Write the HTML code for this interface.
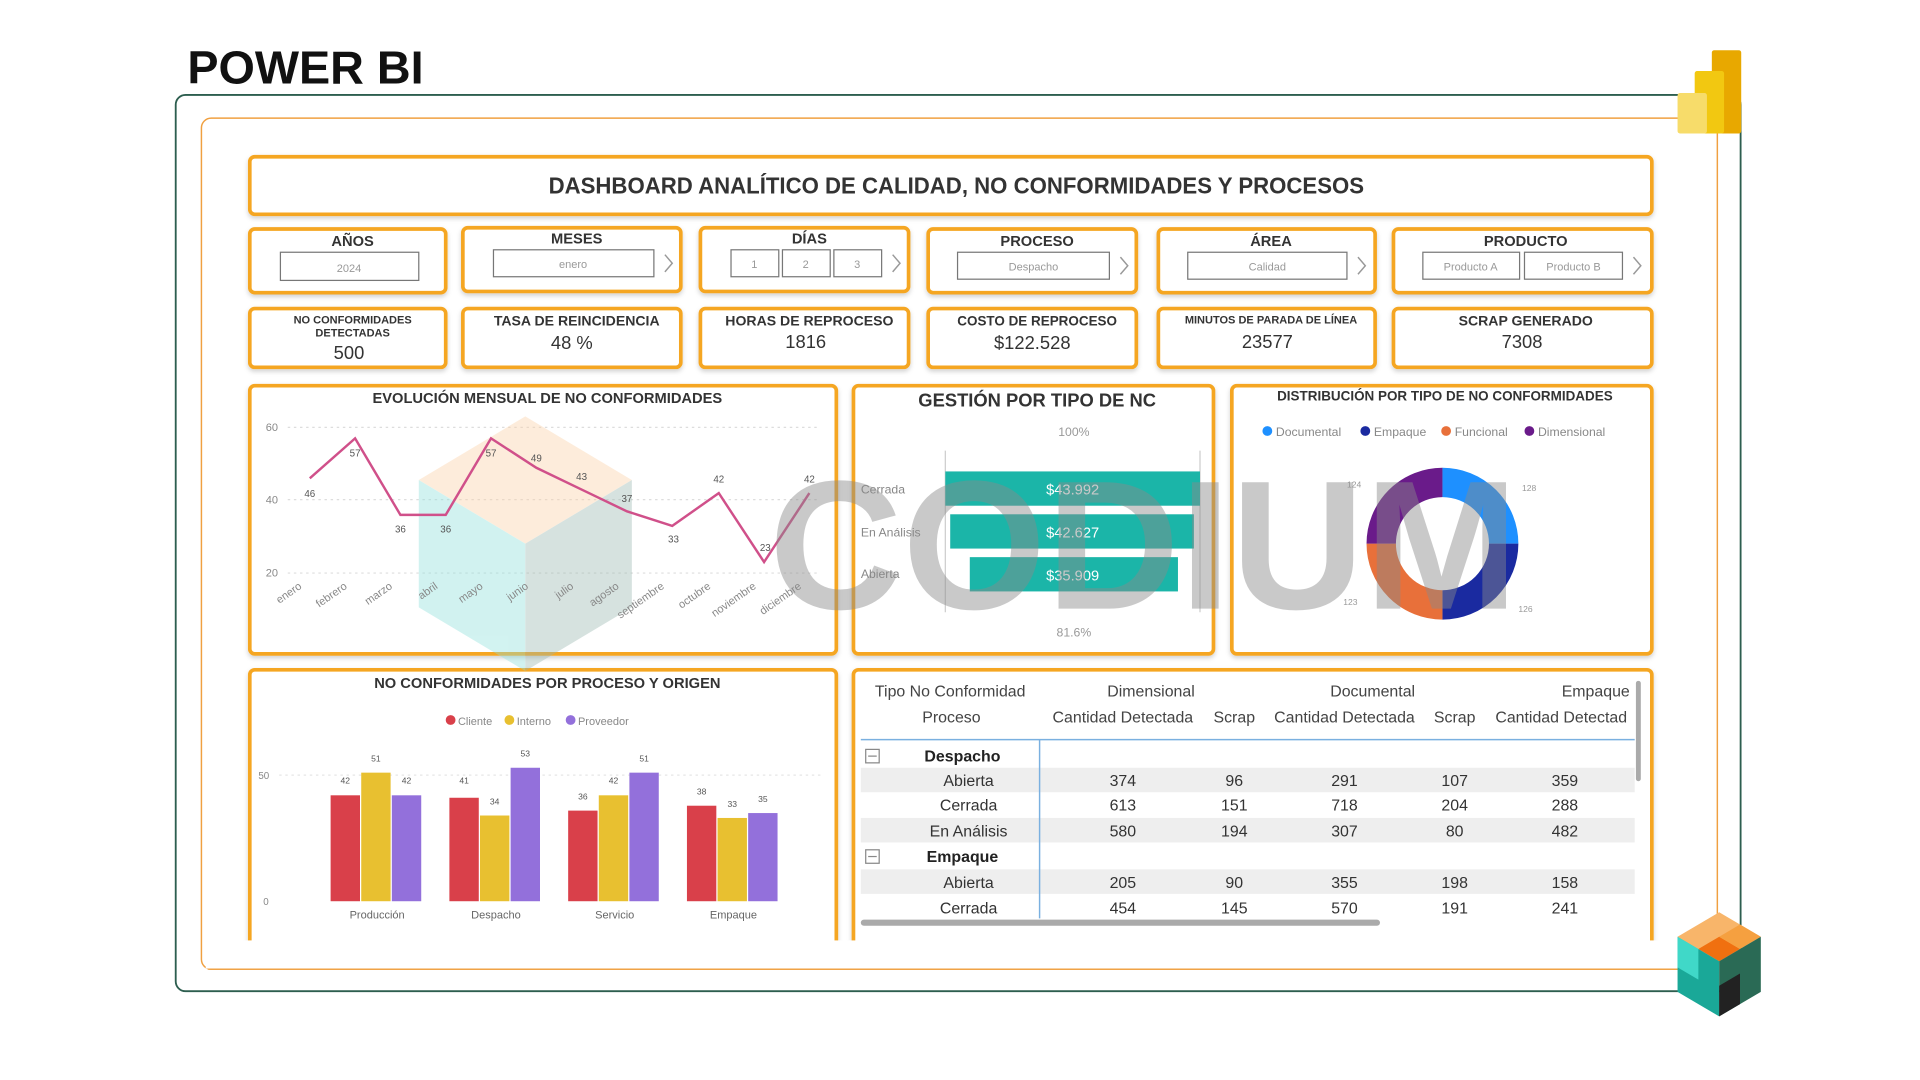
<!DOCTYPE html>
<html><head><meta charset="utf-8"><style>
html,body{margin:0;padding:0;background:#fff;}
svg{display:block}
text{font-family:"Liberation Sans",sans-serif;}
</style></head><body>
<svg width="1920" height="1080" viewBox="0 0 1568 882" xmlns="http://www.w3.org/2000/svg">
<defs>
<filter id="sh" x="-5%" y="-10%" width="110%" height="130%"><feDropShadow dx="0" dy="2" stdDeviation="2" flood-color="#000" flood-opacity="0.18"/></filter>
</defs>
<rect width="1568" height="882" fill="#fff"/>
<text x="153" y="68" font-size="38" font-weight="bold" fill="#111" textLength="193" lengthAdjust="spacingAndGlyphs">POWER BI</text>
<rect x="143.5" y="77.5" width="1278" height="732" rx="8" fill="none" stroke="#2d5e4f" stroke-width="1.5"/>
<rect x="164.5" y="96.5" width="1238" height="695" rx="8" fill="none" stroke="#f0a040" stroke-width="1.2"/>
<!-- power bi logo -->
<rect x="1398" y="41" width="24" height="68" rx="2" fill="#e8a800"/>
<rect x="1384" y="58" width="24" height="51" rx="2" fill="#f2c811"/>
<rect x="1370" y="76" width="24" height="33" rx="2" fill="#f7dc6a"/>

<!-- title -->
<g filter="url(#sh)"><rect x="204" y="128" width="1145" height="47" rx="4" fill="#fff" stroke="#f5a623" stroke-width="3"/></g>
<text x="781" y="158" font-size="19" font-weight="bold" fill="#333" text-anchor="middle" textLength="666" lengthAdjust="spacingAndGlyphs">DASHBOARD ANALÍTICO DE CALIDAD, NO CONFORMIDADES Y PROCESOS</text>

<!-- filter boxes -->
<g filter="url(#sh)" fill="#fff" stroke="#f5a623" stroke-width="3">
<rect x="204" y="187" width="160" height="52" rx="4"/>
<rect x="378" y="186" width="178" height="52" rx="4"/>
<rect x="572" y="186" width="170" height="52" rx="4"/>
<rect x="758" y="187" width="170" height="52" rx="4"/>
<rect x="946" y="187" width="177" height="52" rx="4"/>
<rect x="1138" y="187" width="211" height="52" rx="4"/>
<rect x="204" y="252" width="160" height="48" rx="4"/>
<rect x="378" y="252" width="178" height="48" rx="4"/>
<rect x="572" y="252" width="170" height="48" rx="4"/>
<rect x="758" y="252" width="170" height="48" rx="4"/>
<rect x="946" y="252" width="177" height="48" rx="4"/>
<rect x="1138" y="252" width="211" height="48" rx="4"/>
<rect x="204" y="315" width="479" height="219" rx="4"/>
<rect x="697" y="315" width="294" height="219" rx="4"/>
<rect x="1006" y="315" width="343" height="219" rx="4"/>
<rect x="204" y="547" width="479" height="230" rx="4"/>
<rect x="697" y="547" width="652" height="230" rx="4"/>
</g>
<rect x="168" y="768" width="1228" height="23" fill="#fff"/>
<line x1="170" y1="791.5" x2="1397" y2="791.5" stroke="#f0a040" stroke-width="1.2"/>

<!-- cube -->
<polygon points="1404,745 1438,765 1404,785 1370,765" fill="#f8b56a"/>
<polygon points="1404,765 1421,775 1404,785 1387,775" fill="#f07010"/>
<polygon points="1421,755 1438,765 1421,775 1404,765" fill="#f5a040"/>
<polygon points="1370,765 1404,785 1404,830 1370,810" fill="#1aa898"/>
<polygon points="1370,765 1387,775 1387,800 1370,790" fill="#40d8c8"/>
<polygon points="1404,785 1438,765 1438,810 1404,830" fill="#2a6a55"/>
<polygon points="1404,805 1421,795 1421,820 1404,830" fill="#222"/>

<g font-size="12" font-weight="bold" fill="#333" text-anchor="middle">
<text x="288" y="201">AÑOS</text><text x="471" y="199">MESES</text><text x="661" y="199">DÍAS</text>
<text x="847" y="201">PROCESO</text><text x="1038" y="201">ÁREA</text><text x="1246" y="201">PRODUCTO</text>
</g>
<g fill="#fff" stroke="#777" stroke-width="1">
<rect x="229" y="206" width="113" height="23"/><rect x="403" y="204" width="131" height="22"/>
<rect x="597" y="204" width="39" height="22"/><rect x="639" y="204" width="39" height="22"/><rect x="681" y="204" width="39" height="22"/>
<rect x="782" y="206" width="124" height="22"/><rect x="970" y="206" width="130" height="22"/>
<rect x="1162" y="206" width="79" height="22"/><rect x="1245" y="206" width="80" height="22"/>
</g>
<g font-size="9" fill="#999" text-anchor="middle">
<text x="285" y="222">2024</text><text x="468" y="219">enero</text>
<text x="616" y="219">1</text><text x="658" y="219">2</text><text x="700" y="219">3</text>
<text x="844" y="221">Despacho</text><text x="1035" y="221">Calidad</text>
<text x="1201" y="221">Producto A</text><text x="1285" y="221">Producto B</text>
</g>
<g fill="none" stroke="#999" stroke-width="1.2">
<polyline points="543,208 549,215 543,222"/><polyline points="729,208 735,215 729,222"/>
<polyline points="915,210 921,217 915,224"/><polyline points="1109,210 1115,217 1109,224"/><polyline points="1334,210 1340,217 1334,224"/>
</g>
<!-- KPIs -->
<g font-weight="bold" fill="#333" text-anchor="middle">
<text x="288" y="264" font-size="9">NO CONFORMIDADES</text><text x="288" y="275" font-size="9">DETECTADAS</text>
<text x="471" y="266" font-size="11.5">TASA DE REINCIDENCIA</text>
<text x="661" y="266" font-size="11.5">HORAS DE REPROCESO</text>
<text x="847" y="266" font-size="11">COSTO DE REPROCESO</text>
<text x="1038" y="264" font-size="9">MINUTOS DE PARADA DE LÍNEA</text>
<text x="1246" y="266" font-size="11.5">SCRAP GENERADO</text>
</g>
<g font-size="15" fill="#333" text-anchor="middle">
<text x="285" y="293">500</text><text x="467" y="285">48 %</text><text x="658" y="284">1816</text>
<text x="843" y="285">$122.528</text><text x="1035" y="284">23577</text><text x="1243" y="284">7308</text>
</g>

<!-- line chart -->
<text x="447" y="329" font-size="12" font-weight="bold" fill="#333" text-anchor="middle">EVOLUCIÓN MENSUAL DE NO CONFORMIDADES</text>
<g stroke="#ddd" stroke-dasharray="2,3"><line x1="235" y1="349" x2="670" y2="349"/><line x1="235" y1="408" x2="670" y2="408"/><line x1="235" y1="468" x2="670" y2="468"/></g>
<g font-size="9" fill="#888"><text x="217" y="352">60</text><text x="217" y="411">40</text><text x="217" y="471">20</text></g>
<g opacity="0.4">
<polygon points="429,340 516,392 429,444 342,392" fill="#fcd2a8"/>
<polygon points="342,392 429,444 429,548 342,496" fill="#8fe0dc"/>
<polygon points="429,444 516,392 516,496 429,548" fill="#9ab8b0"/>
</g>
<polyline fill="none" stroke="#d0508a" stroke-width="2" points="253,390.6 290,358 327,420.5 364,420.5 401,358 438,382 475,399.8 512,417.6 549,429.5 587,402.7 624,459 661,402.7"/>
<g font-size="8" fill="#555" text-anchor="middle">
<text x="253" y="406">46</text><text x="290" y="373">57</text><text x="327" y="435">36</text><text x="364" y="435">36</text>
<text x="401" y="373">57</text><text x="438" y="377">49</text><text x="475" y="392">43</text><text x="512" y="410">37</text>
<text x="550" y="443">33</text><text x="587" y="394">42</text><text x="625" y="450">23</text><text x="661" y="394">42</text>
</g>
<g font-size="9" fill="#888" text-anchor="end">
<text transform="translate(247,480) rotate(-35)">enero</text><text transform="translate(284,480) rotate(-35)">febrero</text>
<text transform="translate(321,480) rotate(-35)">marzo</text><text transform="translate(358,480) rotate(-35)">abril</text>
<text transform="translate(395,480) rotate(-35)">mayo</text><text transform="translate(432,480) rotate(-35)">junio</text>
<text transform="translate(469,480) rotate(-35)">julio</text><text transform="translate(506,480) rotate(-35)">agosto</text>
<text transform="translate(543,480) rotate(-35)">septiembre</text><text transform="translate(581,480) rotate(-35)">octubre</text>
<text transform="translate(618,480) rotate(-35)">noviembre</text><text transform="translate(655,480) rotate(-35)">diciembre</text>
</g>

<!-- gestion -->
<text x="847" y="332" font-size="15" font-weight="bold" fill="#333" text-anchor="middle">GESTIÓN POR TIPO DE NC</text>
<text x="877" y="356" font-size="10" fill="#999" text-anchor="middle">100%</text>
<text x="877" y="520" font-size="10" fill="#999" text-anchor="middle">81.6%</text>
<line x1="772" y1="368" x2="772" y2="500" stroke="#ccc"/><line x1="980" y1="368" x2="980" y2="500" stroke="#ccc"/>
<g fill="#1bb5a8"><rect x="772" y="385" width="208" height="28"/><rect x="776" y="420" width="199" height="28"/><rect x="792" y="455" width="170" height="28"/></g>
<g font-size="12" fill="#fff" text-anchor="middle"><text x="876" y="404">$43.992</text><text x="876" y="439">$42.627</text><text x="876" y="474">$35.909</text></g>
<g font-size="10" fill="#888"><text x="703" y="403">Cerrada</text><text x="703" y="438">En Análisis</text><text x="703" y="472">Abierta</text></g>

<!-- donut -->
<text x="1180" y="327" font-size="11" font-weight="bold" fill="#333" text-anchor="middle">DISTRIBUCIÓN POR TIPO DE NO CONFORMIDADES</text>
<g font-size="10" fill="#888">
<circle cx="1035" cy="352" r="4" fill="#1e90ff"/><text x="1042" y="356">Documental</text>
<circle cx="1115" cy="352" r="4" fill="#1a2aa0"/><text x="1122" y="356">Empaque</text>
<circle cx="1181" cy="352" r="4" fill="#e8703a"/><text x="1188" y="356">Funcional</text>
<circle cx="1249" cy="352" r="4" fill="#6a1b8a"/><text x="1256" y="356">Dimensional</text>
</g>
<g fill="none" stroke-width="24">
<path d="M1178,394 A50,50 0 0 1 1228,444" stroke="#1e90ff"/>
<path d="M1228,444 A50,50 0 0 1 1178,494" stroke="#1a2aa0"/>
<path d="M1178,494 A50,50 0 0 1 1128,444" stroke="#e8703a"/>
<path d="M1128,444 A50,50 0 0 1 1178,394" stroke="#6a1b8a"/>
</g>
<g font-size="7" fill="#999"><text x="1100" y="398">124</text><text x="1243" y="401">128</text><text x="1097" y="494">123</text><text x="1240" y="500">126</text></g>

<!-- CODIUM watermark -->
<text x="628" y="497" font-size="150" font-weight="bold" fill="#8a8a8a" opacity="0.45" textLength="612" lengthAdjust="spacingAndGlyphs">CODIUM</text>

<!-- clustered bars -->
<text x="447" y="562" font-size="12" font-weight="bold" fill="#333" text-anchor="middle">NO CONFORMIDADES POR PROCESO Y ORIGEN</text>
<g font-size="9" fill="#888">
<circle cx="368" cy="588" r="4" fill="#d9404a"/><text x="374" y="592">Cliente</text>
<circle cx="416" cy="588" r="4" fill="#e8c030"/><text x="422" y="592">Interno</text>
<circle cx="466" cy="588" r="4" fill="#9370db"/><text x="472" y="592">Proveedor</text>
</g>
<g stroke="#e6e6e6" stroke-dasharray="2,3"><line x1="228" y1="633" x2="670" y2="633"/></g>
<g font-size="8" fill="#888"><text x="211" y="636">50</text><text x="215" y="739">0</text></g>
<g>
<rect x="270" y="649.5" width="24" height="86.5" fill="#d9404a"/><rect x="295" y="631" width="24" height="105" fill="#e8c030"/><rect x="320" y="649.5" width="24" height="86.5" fill="#9370db"/>
<rect x="367" y="651.5" width="24" height="84.5" fill="#d9404a"/><rect x="392" y="666" width="24" height="70" fill="#e8c030"/><rect x="417" y="627" width="24" height="109" fill="#9370db"/>
<rect x="464" y="662" width="24" height="74" fill="#d9404a"/><rect x="489" y="649.5" width="24" height="86.5" fill="#e8c030"/><rect x="514" y="631" width="24" height="105" fill="#9370db"/>
<rect x="561" y="658" width="24" height="78" fill="#d9404a"/><rect x="586" y="668" width="24" height="68" fill="#e8c030"/><rect x="611" y="664" width="24" height="72" fill="#9370db"/>
</g>
<g font-size="7" fill="#555" text-anchor="middle">
<text x="282" y="640">42</text><text x="307" y="622">51</text><text x="332" y="640">42</text>
<text x="379" y="640">41</text><text x="404" y="657">34</text><text x="429" y="618">53</text>
<text x="476" y="653">36</text><text x="501" y="640">42</text><text x="526" y="622">51</text>
<text x="573" y="649">38</text><text x="598" y="659">33</text><text x="623" y="655">35</text>
</g>
<g font-size="9" fill="#666" text-anchor="middle"><text x="308" y="750">Producción</text><text x="405" y="750">Despacho</text><text x="502" y="750">Servicio</text><text x="599" y="750">Empaque</text></g>

<!-- table -->
<g fill="#eee"><rect x="703" y="627" width="632" height="20"/><rect x="703" y="668" width="632" height="20"/><rect x="703" y="710" width="632" height="20"/></g>
<line x1="703" y1="604" x2="1335" y2="604" stroke="#7ab0e0" stroke-width="1.2"/>
<line x1="849" y1="604" x2="849" y2="750" stroke="#7ab0e0" stroke-width="1.2"/>
<g font-size="13" fill="#444" text-anchor="middle">
<text x="776" y="569">Tipo No Conformidad</text><text x="940" y="569">Dimensional</text><text x="1121" y="569">Documental</text><text x="1331" y="569" text-anchor="end">Empaque</text>
<text x="777" y="590">Proceso</text><text x="917" y="590">Cantidad Detectada</text><text x="1008" y="590">Scrap</text><text x="1098" y="590">Cantidad Detectada</text><text x="1188" y="590">Scrap</text><text x="1275" y="590">Cantidad Detectad</text>
</g>
<g font-size="13" fill="#222" font-weight="bold" text-anchor="middle"><text x="786" y="622">Despacho</text><text x="786" y="704">Empaque</text></g>
<g fill="none" stroke="#888"><rect x="707" y="612" width="11" height="11"/><line x1="709" y1="617.5" x2="716" y2="617.5"/><rect x="707" y="694" width="11" height="11"/><line x1="709" y1="699.5" x2="716" y2="699.5"/></g>
<g font-size="13" fill="#333" text-anchor="middle">
<text x="791" y="642">Abierta</text><text x="917" y="642">374</text><text x="1008" y="642">96</text><text x="1098" y="642">291</text><text x="1188" y="642">107</text><text x="1278" y="642">359</text>
<text x="791" y="662">Cerrada</text><text x="917" y="662">613</text><text x="1008" y="662">151</text><text x="1098" y="662">718</text><text x="1188" y="662">204</text><text x="1278" y="662">288</text>
<text x="791" y="683">En Análisis</text><text x="917" y="683">580</text><text x="1008" y="683">194</text><text x="1098" y="683">307</text><text x="1188" y="683">80</text><text x="1278" y="683">482</text>
<text x="791" y="725">Abierta</text><text x="917" y="725">205</text><text x="1008" y="725">90</text><text x="1098" y="725">355</text><text x="1188" y="725">198</text><text x="1278" y="725">158</text>
<text x="791" y="746">Cerrada</text><text x="917" y="746">454</text><text x="1008" y="746">145</text><text x="1098" y="746">570</text><text x="1188" y="746">191</text><text x="1278" y="746">241</text>
</g>
<rect x="703" y="751" width="424" height="5" rx="2.5" fill="#aaa"/>
<rect x="1336" y="556" width="4" height="82" rx="2" fill="#aaa"/>
</svg>
</body></html>
